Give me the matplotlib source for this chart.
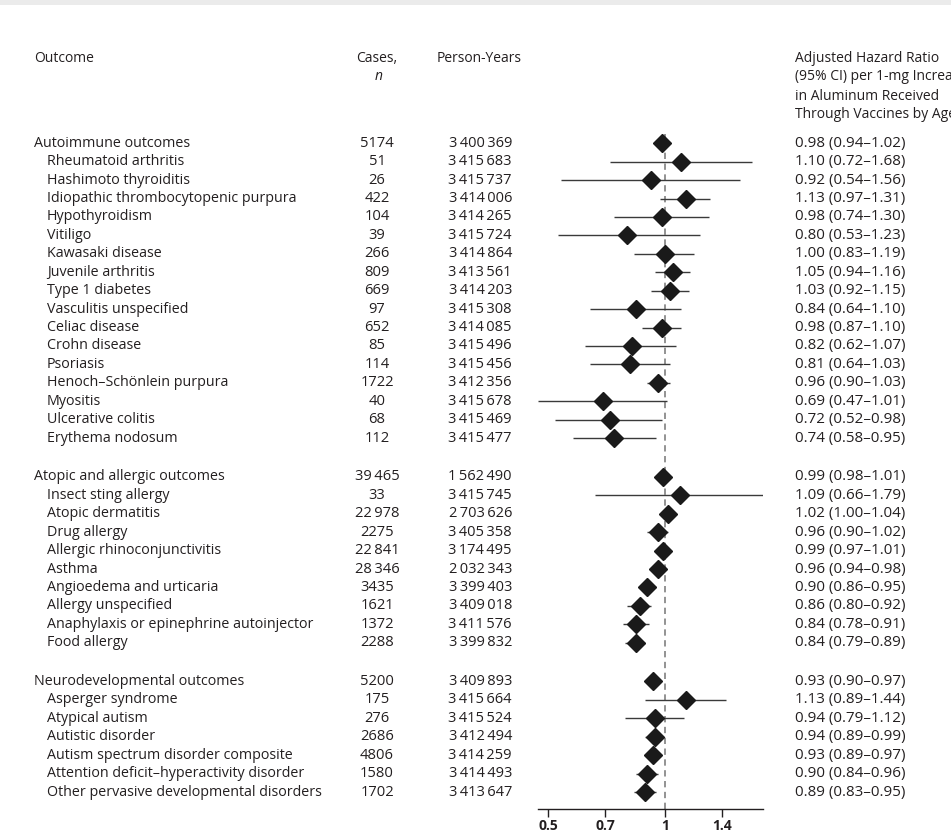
import matplotlib.pyplot as plt
import numpy as np
from matplotlib.patches import Rectangle
from matplotlib.transforms import blended_transform_factory

outcomes = [
    # autoimmune
    "Autoimmune outcomes",
    "Rheumatoid arthritis",
    "Hashimoto thyroiditis",
    "Idiopathic thrombocytopenic purpura",
    "Hypothyroidism",
    "Vitiligo",
    "Kawasaki disease",
    "Juvenile arthritis",
    "Type 1 diabetes",
    "Vasculitis unspecified",
    "Celiac disease",
    "Crohn disease",
    "Psoriasis",
    "Henoch\u2013Sch\u00f6nlein purpura",
    "Myositis",
    "Ulcerative colitis",
    "Erythema nodosum",
    # atopic
    "Atopic and allergic outcomes",
    "Insect sting allergy",
    "Atopic dermatitis",
    "Drug allergy",
    "Allergic rhinoconjunctivitis",
    "Asthma",
    "Angioedema and urticaria",
    "Allergy unspecified",
    "Anaphylaxis or epinephrine autoinjector",
    "Food allergy",
    # neuro
    "Neurodevelopmental outcomes",
    "Asperger syndrome",
    "Atypical autism",
    "Autistic disorder",
    "Autism spectrum disorder composite",
    "Attention deficit\u2013hyperactivity disorder",
    "Other pervasive developmental disorders",
]
group_sizes = [17, 10, 7]

cases = [5174, 51, 26, 422, 104, 39, 266, 809, 669, 97, 652, 85, 114, 1722, 40, 68, 112,
         39465, 33, 22978, 2275, 22841, 28346, 3435, 1621, 1372, 2288,
         5200, 175, 276, 2686, 4806, 1580, 1702]

person_years = [3400369, 3415683, 3415737, 3414006, 3414265, 3415724, 3414864, 3413561,
                3414203, 3415308, 3414085, 3415496, 3415456, 3412356, 3415678, 3415469,
                3415477,
                1562490, 3415745, 2703626, 3405358, 3174495, 2032343, 3399403, 3409018,
                3411576, 3399832,
                3409893, 3415664, 3415524, 3412494, 3414259, 3414493, 3413647]

hr = np.array([0.98, 1.10, 0.92, 1.13, 0.98, 0.80, 1.00, 1.05, 1.03, 0.84, 0.98, 0.82, 0.81,
               0.96, 0.69, 0.72, 0.74,
               0.99, 1.09, 1.02, 0.96, 0.99, 0.96, 0.90, 0.86, 0.84, 0.84,
               0.93, 1.13, 0.94, 0.94, 0.93, 0.90, 0.89])
ci_low = np.array([0.94, 0.72, 0.54, 0.97, 0.74, 0.53, 0.83, 0.94, 0.92, 0.64, 0.87, 0.62, 0.64,
                   0.90, 0.47, 0.52, 0.58,
                   0.98, 0.66, 1.00, 0.90, 0.97, 0.94, 0.86, 0.80, 0.78, 0.79,
                   0.90, 0.89, 0.79, 0.89, 0.89, 0.84, 0.83])
ci_high = np.array([1.02, 1.68, 1.56, 1.31, 1.30, 1.23, 1.19, 1.16, 1.15, 1.10, 1.10, 1.07, 1.03,
                    1.03, 1.01, 0.98, 0.95,
                    1.01, 1.79, 1.04, 1.02, 1.01, 0.98, 0.95, 0.92, 0.91, 0.89,
                    0.97, 1.44, 1.12, 0.99, 0.97, 0.96, 0.95])

x_ticks = [0.5, 0.7, 1, 1.4]
x_tick_labels = ["0.5", "0.7", "1", "1.4"]

TEXT = "#231f20"
W, H = 951, 833

plt.rcParams["font.family"] = ["Open Sans", "DejaVu Sans"]
plt.rcParams["font.size"] = 10


def fmt_num(n):
    if n >= 10000:
        return f"{n:,}".replace(",", "\u2009")
    return str(n)


# row positions: one unit per row, extra gap between groups
y_pos = []
is_group = []
start = 0.0
for size in group_sizes:
    for i in range(size):
        y_pos.append(start + i)
        is_group.append(i == 0)
    start += size - 1 + 2.1
y_pos = np.array(y_pos)

fig = plt.figure(figsize=(W / 100, H / 100), dpi=100)
fig.patch.set_facecolor("white")
fig.patches.append(Rectangle((0, 1 - 5 / H), 1, 5 / H, transform=fig.transFigure,
                             facecolor="#ebebeb", edgecolor="none"))

row_px = 18.44
top_px, bottom_px = 134, 809
ax = fig.add_axes([538 / W, 1 - bottom_px / H, (763 - 538) / W, (bottom_px - top_px) / H])
ax.set_xscale("log")
ax.set_xlim(0.47, 1.79)
ax.set_ylim((bottom_px - 143) / row_px, -0.5)

ax.axvline(1, color="#8a8a8a", linestyle=(0, (3.5, 2.5)), linewidth=1.3, zorder=1)
ax.hlines(y_pos, ci_low, ci_high, color="#3a3a3a", linewidth=1.0, zorder=2)
ax.plot(hr, y_pos, linestyle="none", marker="D", markersize=9, color="#1a1a1a", zorder=3)

for side in ["top", "right", "left"]:
    ax.spines[side].set_visible(False)
ax.spines["bottom"].set_color(TEXT)
ax.spines["bottom"].set_linewidth(1.0)
ax.set_yticks([])
ax.set_xticks(x_ticks)
ax.set_xticklabels(x_tick_labels, fontweight="bold", fontsize=10, color=TEXT)
ax.xaxis.set_minor_locator(plt.NullLocator())
ax.tick_params(axis="x", direction="out", length=6, width=1.0, color=TEXT, pad=1.5)

tr = blended_transform_factory(fig.transFigure, ax.transData)

for label, grp, y, c, py, h, lo, hi in zip(outcomes, is_group, y_pos, cases, person_years,
                                           hr, ci_low, ci_high):
    x_label = 34 if grp else 47
    fig.text(x_label / W, y, label, transform=tr, ha="left", va="center", color=TEXT,
             fontsize=10.3)
    fig.text(377 / W, y, fmt_num(c), transform=tr, ha="center", va="center", color=TEXT,
             fontsize=10.6)
    fig.text(512 / W, y, fmt_num(py), transform=tr, ha="right", va="center", color=TEXT,
             fontsize=10.5)
    fig.text(795 / W, y, f"{h:.2f} ({lo:.2f}\u2013{hi:.2f})", transform=tr,
             ha="left", va="center", color=TEXT, fontsize=10.9)

# column headers
fig.text(34 / W, 1 - 58 / H, "Outcome", ha="left", va="center", color=TEXT)
fig.text(377 / W, 1 - 58 / H, "Cases,", ha="center", va="center", color=TEXT)
fig.text(379 / W, 1 - 77 / H, "n", ha="center", va="center", color=TEXT, style="italic")
fig.text(437 / W, 1 - 58 / H, "Person-Years", ha="left", va="center", color=TEXT)
hr_header = ["Adjusted Hazard Ratio", "(95% CI) per 1-mg Increase",
             "in Aluminum Received", "Through Vaccines by Age 2 y"]
for i, line in enumerate(hr_header):
    fig.text(795 / W, 1 - (58 + 19 * i) / H, line, ha="left", va="center", color=TEXT)

fig.savefig("out.png", dpi=100, facecolor="white")
